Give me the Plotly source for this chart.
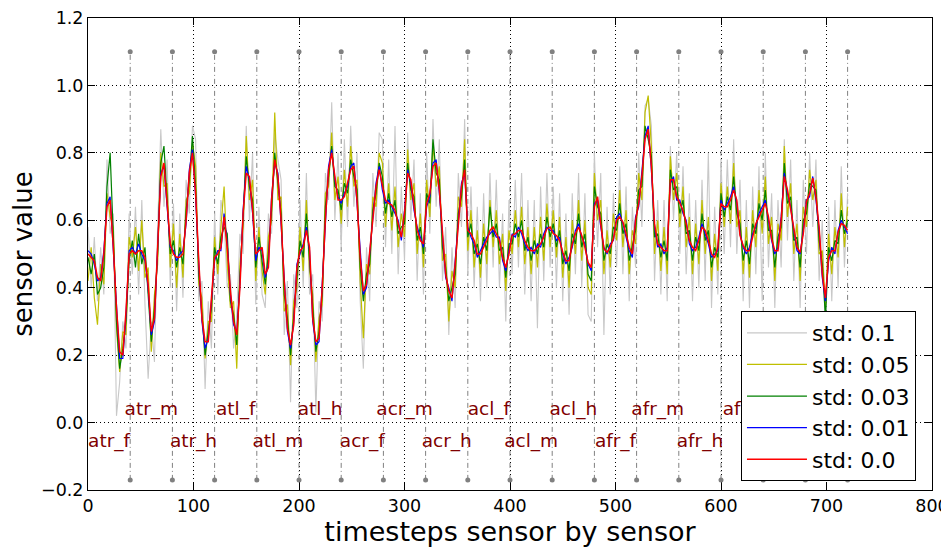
import plotly.graph_objects as go

# ---------------- data ----------------
sensors = ["atr_f", "atr_m", "atr_h", "atl_f", "atl_m", "atl_h",
           "acr_f", "acr_m", "acr_h", "acl_f", "acl_m", "acl_h",
           "afr_f", "afr_m", "afr_h", "afl_f", "afl_m", "afl_h"]
steps_per_sensor = 40
timesteps = list(range(0, 721, 3))

std_00 = [
    0.50, 0.49, 0.48, 0.43, 0.42, 0.50, 0.64, 0.66, 0.52, 0.34,
    0.21, 0.20, 0.33, 0.50, 0.51, 0.50, 0.51, 0.51, 0.49, 0.41,
    0.27, 0.31, 0.53, 0.73, 0.77, 0.64, 0.53, 0.50, 0.49, 0.49,
    0.50, 0.60, 0.74, 0.80, 0.68, 0.48, 0.31, 0.24, 0.24, 0.37,
    0.49, 0.50, 0.52, 0.61, 0.52, 0.39, 0.30, 0.26, 0.40, 0.62,
    0.74, 0.73, 0.63, 0.50, 0.51, 0.52, 0.44, 0.46, 0.66, 0.78,
    0.73, 0.60, 0.42, 0.28, 0.23, 0.29, 0.46, 0.51, 0.52, 0.57,
    0.52, 0.31, 0.24, 0.25, 0.40, 0.60, 0.75, 0.80, 0.73, 0.66,
    0.66, 0.67, 0.71, 0.75, 0.76, 0.66, 0.49, 0.39, 0.41, 0.50,
    0.60, 0.70, 0.75, 0.70, 0.66, 0.65, 0.645, 0.63, 0.59, 0.55,
    0.62, 0.74, 0.72, 0.64, 0.57, 0.54, 0.53, 0.65, 0.68, 0.76,
    0.77, 0.69, 0.55, 0.44, 0.39, 0.37, 0.47, 0.58, 0.70, 0.75,
    0.57, 0.56, 0.54, 0.50, 0.50, 0.52, 0.54, 0.57, 0.58, 0.56,
    0.54, 0.49, 0.46, 0.50, 0.555, 0.56, 0.57, 0.57, 0.54, 0.52,
    0.51, 0.51, 0.52, 0.53, 0.55, 0.575, 0.58, 0.56, 0.555, 0.54,
    0.505, 0.48, 0.48, 0.53, 0.56, 0.58, 0.555, 0.52, 0.475, 0.46,
    0.64, 0.67, 0.59, 0.515, 0.505, 0.52, 0.545, 0.60, 0.61, 0.595,
    0.56, 0.52, 0.50, 0.60, 0.65, 0.73, 0.84, 0.87, 0.76, 0.59,
    0.53, 0.52, 0.51, 0.51, 0.72, 0.72, 0.67, 0.65, 0.63, 0.59,
    0.54, 0.52, 0.51, 0.54, 0.58, 0.57, 0.54, 0.50, 0.49, 0.52,
    0.65, 0.64, 0.64, 0.66, 0.69, 0.66, 0.555, 0.525, 0.51, 0.51,
    0.55, 0.59, 0.61, 0.63, 0.65, 0.61, 0.545, 0.51, 0.51, 0.60,
    0.73, 0.69, 0.63, 0.575, 0.52, 0.505, 0.56, 0.655, 0.68, 0.725,
    0.67, 0.58, 0.44, 0.37, 0.49, 0.51, 0.51, 0.565, 0.59, 0.585,
    0.57]

std_001 = [
    0.51, 0.50, 0.47, 0.42, 0.43, 0.51, 0.65, 0.67, 0.51, 0.33,
    0.19, 0.19, 0.32, 0.51, 0.52, 0.50, 0.53, 0.50, 0.48, 0.40,
    0.26, 0.30, 0.54, 0.74, 0.76, 0.63, 0.52, 0.51, 0.48, 0.50,
    0.51, 0.59, 0.75, 0.81, 0.67, 0.47, 0.30, 0.22, 0.25, 0.36,
    0.48, 0.51, 0.51, 0.62, 0.53, 0.38, 0.29, 0.27, 0.41, 0.63,
    0.76, 0.72, 0.62, 0.48, 0.52, 0.51, 0.43, 0.47, 0.67, 0.77,
    0.74, 0.59, 0.41, 0.27, 0.22, 0.30, 0.47, 0.50, 0.53, 0.58,
    0.51, 0.30, 0.23, 0.24, 0.41, 0.61, 0.76, 0.81, 0.72, 0.67,
    0.65, 0.68, 0.70, 0.76, 0.77, 0.65, 0.50, 0.38, 0.40, 0.51,
    0.61, 0.71, 0.76, 0.69, 0.65, 0.66, 0.64, 0.62, 0.60, 0.54,
    0.63, 0.75, 0.71, 0.63, 0.58, 0.55, 0.52, 0.64, 0.67, 0.77,
    0.78, 0.68, 0.56, 0.43, 0.40, 0.36, 0.48, 0.59, 0.71, 0.74,
    0.58, 0.55, 0.53, 0.49, 0.51, 0.53, 0.55, 0.56, 0.57, 0.55,
    0.55, 0.48, 0.45, 0.51, 0.56, 0.55, 0.58, 0.56, 0.53, 0.51,
    0.52, 0.50, 0.53, 0.52, 0.56, 0.58, 0.57, 0.57, 0.54, 0.55,
    0.50, 0.47, 0.49, 0.52, 0.57, 0.59, 0.55, 0.53, 0.47, 0.45,
    0.65, 0.66, 0.58, 0.52, 0.50, 0.53, 0.54, 0.61, 0.62, 0.59,
    0.55, 0.51, 0.49, 0.61, 0.64, 0.74, 0.85, 0.88, 0.75, 0.58,
    0.52, 0.53, 0.50, 0.52, 0.71, 0.73, 0.66, 0.66, 0.62, 0.60,
    0.53, 0.51, 0.52, 0.55, 0.59, 0.56, 0.53, 0.49, 0.50, 0.51,
    0.66, 0.63, 0.65, 0.67, 0.70, 0.65, 0.56, 0.52, 0.50, 0.52,
    0.56, 0.58, 0.62, 0.64, 0.66, 0.60, 0.54, 0.50, 0.52, 0.61,
    0.74, 0.68, 0.64, 0.57, 0.51, 0.50, 0.57, 0.66, 0.67, 0.73,
    0.66, 0.57, 0.43, 0.36, 0.48, 0.52, 0.50, 0.57, 0.60, 0.58,
    0.56]

std_003 = [
    0.49, 0.44, 0.50, 0.38, 0.40, 0.46, 0.70, 0.80, 0.55, 0.30,
    0.16, 0.22, 0.30, 0.48, 0.54, 0.46, 0.56, 0.47, 0.52, 0.38,
    0.24, 0.34, 0.50, 0.77, 0.82, 0.66, 0.50, 0.54, 0.46, 0.52,
    0.47, 0.63, 0.72, 0.85, 0.70, 0.44, 0.33, 0.20, 0.27, 0.34,
    0.52, 0.47, 0.55, 0.58, 0.56, 0.36, 0.32, 0.23, 0.43, 0.60,
    0.79, 0.70, 0.66, 0.46, 0.55, 0.48, 0.41, 0.50, 0.63, 0.80,
    0.70, 0.62, 0.38, 0.31, 0.20, 0.32, 0.44, 0.54, 0.49, 0.62,
    0.48, 0.34, 0.21, 0.27, 0.38, 0.64, 0.73, 0.82, 0.70, 0.69,
    0.63, 0.71, 0.68, 0.78, 0.73, 0.69, 0.46, 0.36, 0.44, 0.47,
    0.63, 0.68, 0.77, 0.73, 0.62, 0.68, 0.61, 0.66, 0.56, 0.58,
    0.59, 0.77, 0.69, 0.67, 0.54, 0.58, 0.50, 0.68, 0.65, 0.84,
    0.74, 0.72, 0.52, 0.46, 0.36, 0.40, 0.44, 0.62, 0.67, 0.78,
    0.55, 0.59, 0.50, 0.53, 0.47, 0.55, 0.51, 0.64, 0.55, 0.59,
    0.51, 0.52, 0.43, 0.53, 0.53, 0.59, 0.55, 0.60, 0.51, 0.55,
    0.48, 0.54, 0.50, 0.56, 0.52, 0.61, 0.55, 0.59, 0.52, 0.57,
    0.47, 0.51, 0.45, 0.56, 0.53, 0.62, 0.52, 0.56, 0.44, 0.42,
    0.70, 0.64, 0.62, 0.48, 0.53, 0.50, 0.58, 0.57, 0.65, 0.56,
    0.59, 0.48, 0.53, 0.57, 0.69, 0.70, 0.88, 0.84, 0.79, 0.55,
    0.56, 0.49, 0.54, 0.48, 0.75, 0.69, 0.70, 0.62, 0.66, 0.56,
    0.57, 0.48, 0.55, 0.51, 0.62, 0.54, 0.57, 0.46, 0.52, 0.49,
    0.68, 0.61, 0.67, 0.63, 0.73, 0.62, 0.59, 0.48, 0.54, 0.47,
    0.59, 0.56, 0.65, 0.60, 0.69, 0.57, 0.57, 0.46, 0.55, 0.58,
    0.77, 0.65, 0.67, 0.54, 0.55, 0.46, 0.60, 0.62, 0.71, 0.70,
    0.69, 0.54, 0.47, 0.31, 0.52, 0.48, 0.54, 0.53, 0.63, 0.56,
    0.60]

std_005 = [
    0.42, 0.52, 0.37, 0.29, 0.47, 0.41, 0.68, 0.61, 0.58, 0.28,
    0.15, 0.27, 0.26, 0.55, 0.49, 0.58, 0.45, 0.60, 0.43, 0.46,
    0.21, 0.38, 0.47, 0.80, 0.70, 0.71, 0.46, 0.59, 0.40, 0.56,
    0.43, 0.66, 0.68, 0.83, 0.76, 0.41, 0.37, 0.19, 0.30, 0.30,
    0.55, 0.44, 0.58, 0.70, 0.47, 0.34, 0.36, 0.16, 0.47, 0.58,
    0.85, 0.66, 0.72, 0.42, 0.58, 0.45, 0.38, 0.55, 0.60, 0.92,
    0.66, 0.67, 0.33, 0.35, 0.17, 0.36, 0.40, 0.58, 0.45, 0.66,
    0.45, 0.38, 0.18, 0.31, 0.35, 0.68, 0.70, 0.86, 0.66, 0.73,
    0.59, 0.75, 0.64, 0.82, 0.70, 0.72, 0.42, 0.25, 0.47, 0.44,
    0.67, 0.64, 0.80, 0.77, 0.58, 0.71, 0.57, 0.70, 0.52, 0.62,
    0.55, 0.81, 0.66, 0.71, 0.50, 0.62, 0.46, 0.72, 0.61, 0.83,
    0.70, 0.76, 0.48, 0.50, 0.30, 0.45, 0.40, 0.67, 0.64, 0.84,
    0.51, 0.63, 0.46, 0.57, 0.43, 0.59, 0.47, 0.66, 0.52, 0.63,
    0.47, 0.56, 0.39, 0.57, 0.50, 0.63, 0.52, 0.64, 0.47, 0.58,
    0.44, 0.58, 0.46, 0.61, 0.48, 0.65, 0.52, 0.63, 0.49, 0.61,
    0.43, 0.55, 0.40, 0.60, 0.50, 0.66, 0.48, 0.60, 0.40, 0.38,
    0.74, 0.60, 0.66, 0.44, 0.57, 0.46, 0.62, 0.54, 0.69, 0.52,
    0.63, 0.44, 0.57, 0.53, 0.74, 0.66, 0.92, 0.97, 0.82, 0.50,
    0.60, 0.45, 0.58, 0.44, 0.79, 0.66, 0.74, 0.58, 0.70, 0.52,
    0.61, 0.44, 0.59, 0.47, 0.66, 0.50, 0.61, 0.42, 0.56, 0.45,
    0.71, 0.58, 0.70, 0.59, 0.77, 0.58, 0.63, 0.44, 0.58, 0.43,
    0.63, 0.52, 0.69, 0.56, 0.73, 0.53, 0.61, 0.42, 0.59, 0.54,
    0.82, 0.61, 0.71, 0.50, 0.59, 0.42, 0.64, 0.58, 0.75, 0.66,
    0.72, 0.50, 0.51, 0.34, 0.56, 0.44, 0.58, 0.49, 0.68, 0.52,
    0.64]

std_01 = [
    0.58, 0.40, 0.55, 0.36, 0.52, 0.38, 0.78, 0.56, 0.62, 0.02,
    0.12, 0.30, 0.22, 0.62, 0.44, 0.64, 0.38, 0.66, 0.35, 0.13,
    0.30, 0.18, 0.58, 0.87, 0.64, 0.78, 0.40, 0.65, 0.33, 0.62,
    0.37, 0.72, 0.62, 0.88, 0.84, 0.36, 0.42, 0.10, 0.36, 0.22,
    0.62, 0.38, 0.66, 0.60, 0.40, 0.44, 0.22, 0.32, 0.56, 0.50,
    0.88, 0.60, 0.80, 0.35, 0.64, 0.38, 0.34, 0.62, 0.56, 0.86,
    0.78, 0.72, 0.26, 0.42, 0.06, 0.44, 0.34, 0.66, 0.40, 0.74,
    0.38, 0.44, 0.03, 0.36, 0.30, 0.74, 0.66, 0.95, 0.60, 0.80,
    0.52, 0.84, 0.58, 0.88, 0.64, 0.80, 0.36, 0.16, 0.52, 0.36,
    0.74, 0.58, 0.86, 0.84, 0.52, 0.78, 0.50, 0.88, 0.44, 0.70,
    0.48, 0.86, 0.60, 0.78, 0.42, 0.68, 0.38, 0.80, 0.56, 0.90,
    0.64, 0.84, 0.42, 0.58, 0.26, 0.52, 0.34, 0.74, 0.58, 0.90,
    0.44, 0.70, 0.40, 0.64, 0.36, 0.68, 0.40, 0.74, 0.46, 0.72,
    0.40, 0.62, 0.30, 0.66, 0.44, 0.72, 0.46, 0.74, 0.38, 0.66,
    0.36, 0.66, 0.28, 0.70, 0.42, 0.74, 0.46, 0.70, 0.40, 0.68,
    0.36, 0.62, 0.32, 0.68, 0.44, 0.74, 0.40, 0.68, 0.32, 0.30,
    0.80, 0.52, 0.74, 0.26, 0.64, 0.38, 0.68, 0.46, 0.76, 0.44,
    0.70, 0.36, 0.64, 0.46, 0.80, 0.58, 0.94, 0.96, 0.88, 0.42,
    0.66, 0.38, 0.66, 0.36, 0.82, 0.60, 0.80, 0.50, 0.76, 0.44,
    0.68, 0.36, 0.66, 0.40, 0.72, 0.42, 0.80, 0.34, 0.64, 0.38,
    0.78, 0.50, 0.78, 0.52, 0.84, 0.50, 0.72, 0.36, 0.66, 0.34,
    0.70, 0.44, 0.76, 0.36, 0.80, 0.46, 0.68, 0.34, 0.66, 0.46,
    0.84, 0.54, 0.78, 0.42, 0.66, 0.34, 0.72, 0.50, 0.80, 0.58,
    0.78, 0.42, 0.60, 0.26, 0.64, 0.36, 0.66, 0.40, 0.76, 0.46,
    0.68]

series_names = ["std: 0.1", "std: 0.05", "std: 0.03", "std: 0.01", "std: 0.0"]
series_values = [std_01, std_005, std_003, std_001, std_00]
series_colors = ["#c8c8c8", "#bfbf00", "#008000", "#0000ff", "#ff0000"]
series_widths = [1.1, 1.2, 1.2, 1.2, 1.5]

x_ticks = [0, 100, 200, 300, 400, 500, 600, 700, 800]
y_ticks = [-0.2, 0.0, 0.2, 0.4, 0.6, 0.8, 1.0, 1.2]

for s in series_values:
    assert len(s) == len(timesteps), len(s)

# ---------------- figure ----------------
FONT = "DejaVu Sans"
fig = go.Figure()

# sensor boundaries (dash-dot lines with end dots)
bounds = [(i + 1) * steps_per_sensor for i in range(len(sensors))]
bx, by = [], []
for b in bounds:
    bx += [b, b, None]
    by += [-0.17, 1.1, None]
fig.add_trace(go.Scatter(x=bx, y=by, mode="lines", showlegend=False,
                         hoverinfo="skip",
                         line=dict(color="#808080", width=1,
                                   dash="5px,3px,1px,3px")))
fig.add_trace(go.Scatter(x=bounds + bounds,
                         y=[1.1] * len(bounds) + [-0.17] * len(bounds),
                         mode="markers", showlegend=False, hoverinfo="skip",
                         marker=dict(color="#808080", size=5)))

for name, vals, col, w in zip(series_names, series_values, series_colors,
                              series_widths):
    fig.add_trace(go.Scatter(x=timesteps, y=vals, mode="lines", name=name,
                             line=dict(color=col, width=w)))

# sensor labels
lab_x = [i * steps_per_sensor + steps_per_sensor / 2 for i in range(len(sensors))]
lab_y = [-0.06 if i % 2 == 0 else 0.036 for i in range(len(sensors))]
fig.add_trace(go.Scatter(x=lab_x, y=lab_y, text=sensors, mode="text",
                         showlegend=False, hoverinfo="skip",
                         textfont=dict(family=FONT, size=18.5, color="#800000")))

axis_common = dict(
    showline=True, linecolor="black", linewidth=1, mirror="allticks",
    ticks="inside", ticklen=7, tickcolor="black",
    showgrid=True, gridcolor="black", gridwidth=1, griddash="1px,3px",
    zeroline=False,
    tickfont=dict(family=FONT, size=17.5, color="black"),
)

fig.update_xaxes(range=[0, 800], tickvals=x_ticks, **axis_common,
                 title=dict(text="timesteps sensor by sensor", standoff=4,
                            font=dict(family=FONT, size=27, color="black")))
fig.update_yaxes(range=[-0.2, 1.2], tickvals=y_ticks, tickformat=".1f",
                 **axis_common,
                 title=dict(text="sensor value", standoff=4,
                            font=dict(family=FONT, size=26, color="black")))

# the page body adds an 8px offset; margins compensate for it
fig.update_layout(
    width=941, height=539,
    margin=dict(l=80, r=17, t=10, b=57, autoexpand=False),
    paper_bgcolor="white", plot_bgcolor="white",
    font=dict(family=FONT, color="black"),
    legend=dict(x=0.981, y=0.019, xanchor="right", yanchor="bottom",
                bgcolor="white", bordercolor="black", borderwidth=1,
                font=dict(family=FONT, size=22, color="black"),
                itemwidth=60, tracegroupgap=0),
)

fig.write_html("out.html")
